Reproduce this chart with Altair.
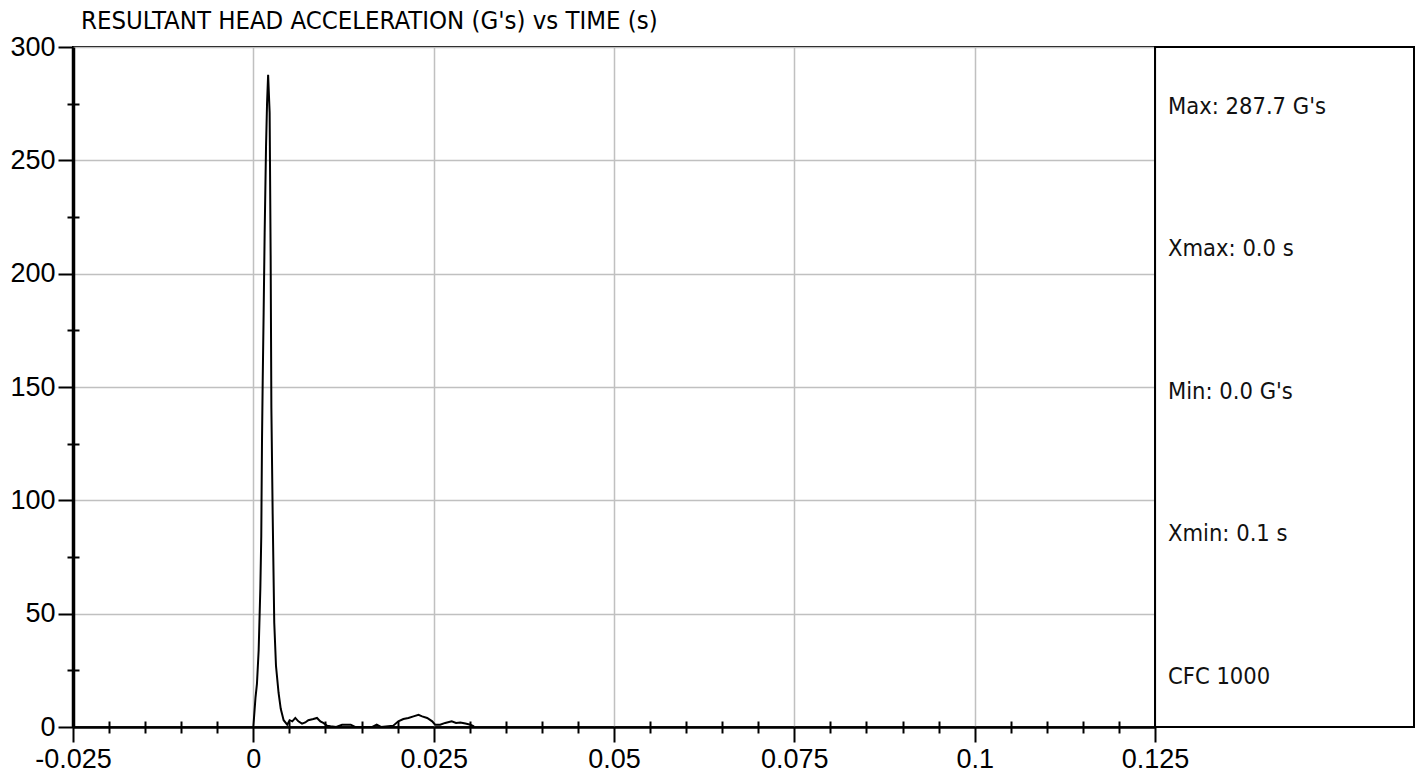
import altair as alt
import pandas as pd

TITLE = "RESULTANT HEAD ACCELERATION (G's) vs TIME (s)"

TIME = [0.0, 0.0003, 0.0005, 0.00074, 0.00097, 0.0011, 0.0012, 0.0013, 0.00143, 0.00157,
        0.00176, 0.0019, 0.00205, 0.00226, 0.0024, 0.0025, 0.00268, 0.0029, 0.00314, 0.0035,
        0.0038, 0.0042, 0.0047, 0.00503, 0.0054, 0.00582, 0.00624, 0.00675, 0.0072, 0.00762,
        0.00832, 0.00883, 0.00929, 0.0097, 0.0102, 0.0107, 0.0115, 0.0123, 0.0135, 0.0141,
        0.0165, 0.0171, 0.0177, 0.0194, 0.0201, 0.0208, 0.0215, 0.0222, 0.0229, 0.0234,
        0.0241, 0.0248, 0.0252, 0.0259, 0.0266, 0.0275, 0.0281, 0.0287, 0.0294, 0.0301,
        0.0306]
ACCEL = [0, 13, 19, 34, 61, 84, 126, 153, 183, 218,
         256, 275, 287.7, 271, 208, 141, 94, 46, 27, 15,
         8, 3, 1, 3, 2.5, 4, 2.5, 1.5, 2, 3,
         3.5, 4, 2.5, 1.8, 0.6, 0.3, 0, 1, 1, 0,
         0, 1, 0, 0.6, 2.5, 3.5, 4, 4.7, 5.4, 4.7,
         4, 2.5, 1, 1, 1.8, 2.5, 1.8, 2, 1.5, 1,
         0.3]

X_MAJOR = [-0.025, 0, 0.025, 0.05, 0.075, 0.1, 0.125]
X_MINOR = [-0.02, -0.015, -0.01, -0.005, 0.005, 0.01, 0.015, 0.02,
           0.03, 0.035, 0.04, 0.045, 0.055, 0.06, 0.065, 0.07,
           0.08, 0.085, 0.09, 0.095, 0.105, 0.11, 0.115, 0.12]
Y_MAJOR = [0, 50, 100, 150, 200, 250, 300]
Y_MINOR = [25, 75, 125, 175, 225, 275]

PANEL_TEXT = ["Max: 287.7 G's", "Xmax: 0.0 s", "Min: 0.0 G's", "Xmin: 0.1 s", "CFC 1000"]
PANEL_ROW = [0, 1, 2, 3, 4]

NARROW = "Liberation Sans Narrow, DejaVu Sans Condensed, Arial Narrow, sans-serif"
SANS = "Liberation Sans, Arial, sans-serif"

df = pd.DataFrame({"t": TIME, "g": ACCEL})
panel = pd.DataFrame({"row": PANEL_ROW, "label": PANEL_TEXT})

xscale = alt.Scale(domain=[-0.025, 0.125], nice=False, zero=False)
yscale = alt.Scale(domain=[0, 300], nice=False)

common = dict(title=None, labelOverlap=False, labelFlush=False, labelBound=False,
              tickWidth=2, tickColor="black", domainColor="black")

x_axis = alt.Axis(
    values=X_MAJOR, orient="bottom",
    labelExpr="'' + datum.value",
    labelFont=SANS, labelFontSize=27, labelColor="black", labelPadding=4,
    tickSize=15, domainWidth=2.5,
    grid=True, gridColor="#c0c0c0", gridWidth=1.5, **common,
)
y_axis = alt.Axis(
    values=Y_MAJOR, orient="left",
    labelExpr="'' + datum.value",
    labelFont=SANS, labelFontSize=27, labelColor="black", labelPadding=3,
    tickSize=15, domainWidth=3.5,
    grid=True, gridColor="#c0c0c0", gridWidth=1.5, **common,
)
x_minor = alt.Axis(values=X_MINOR, orient="bottom", offset=-6, tickSize=12,
                   labels=False, domain=False, grid=False, **common)
y_minor = alt.Axis(values=Y_MINOR, orient="left", offset=-6, tickSize=12,
                   labels=False, domain=False, grid=False, **common)

base = alt.Chart(df).encode(order="t:Q")

line = base.mark_line(color="black", strokeWidth=2).encode(
    x=alt.X("t:Q", scale=xscale, axis=x_axis),
    y=alt.Y("g:Q", scale=yscale, axis=y_axis),
)
minor = base.mark_line(opacity=0).encode(
    x=alt.X("t:Q", scale=xscale, axis=x_minor),
    y=alt.Y("g:Q", scale=yscale, axis=y_minor),
)

left = alt.layer(minor, line).resolve_axis(x="independent", y="independent").properties(
    width=1082, height=680
)

side = alt.Chart(panel).mark_text(
    align="left", baseline="middle", font=NARROW, fontSize=23.5, color="#111111"
).encode(
    x=alt.value(13),
    y=alt.Y("row:Q", scale=alt.Scale(domain=[-0.421, 4.351], reverse=True, nice=False, zero=False), axis=None),
    text="label:N",
).properties(width=259, height=680)

chart = alt.hconcat(left, side, spacing=0, bounds="flush").properties(
    title=alt.TitleParams(
        TITLE, anchor="start", font=NARROW, fontSize=25.5, fontWeight="normal",
        color="black", dx=72, offset=-2,
    ),
    padding=0,
).configure_view(stroke="black", strokeWidth=2)

chart.save("out.html", embed_options={"renderer": "svg", "actions": False})
